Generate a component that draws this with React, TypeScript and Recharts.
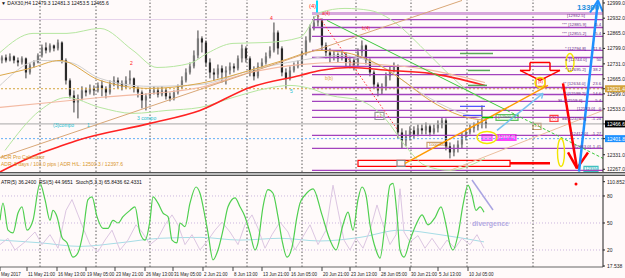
import React from "react";
import {
  ComposedChart,
  Bar,
  Line,
  XAxis,
  YAxis,
  ReferenceLine,
  ReferenceArea,
  ReferenceDot,
} from "recharts";

const FONT = "'Liberation Sans', Arial, sans-serif";
const XDOM = [-0.5, 150.25];

// DAX30 H4 candles (bar 0 = left edge)
const opens = [
  12746, 12759, 12746, 12764, 12746, 12737, 12755, 12693, 12724, 12737,
  12768, 12803, 12790, 12812, 12799, 12825, 12746, 12658, 12592, 12561,
  12579, 12614, 12605, 12623, 12614, 12636, 12623, 12605, 12640, 12658,
  12645, 12632, 12658, 12667, 12623, 12605, 12570, 12588, 12605, 12614,
  12596, 12614, 12588, 12579, 12605, 12632, 12658, 12693, 12720, 12768,
  12843, 12825, 12737, 12693, 12684, 12711, 12693, 12702, 12720, 12711,
  12755, 12799, 12755, 12702, 12676, 12720, 12737, 12764, 12790, 12869,
  12799, 12693, 12667, 12702, 12720, 12728, 12781, 12834, 12887, 12913,
  12922, 12812, 12781, 12764, 12772, 12755, 12772, 12737, 12746, 12728,
  12781, 12812, 12746, 12693, 12640, 12614, 12632, 12676, 12702, 12720,
  12429, 12394, 12412, 12438, 12420, 12447, 12438, 12456, 12429, 12447,
  12464, 12482, 12368, 12341, 12359, 12376, 12412, 12429, 12447, 12456,
  12464, 12473,
];
const highs = [
  12768, 12772, 12777, 12768, 12759, 12764, 12759, 12733, 12746, 12777,
  12816, 12825, 12821, 12816, 12838, 12830, 12755, 12667, 12614, 12596,
  12632, 12627, 12640, 12636, 12649, 12658, 12632, 12658, 12676, 12671,
  12658, 12676, 12702, 12671, 12632, 12614, 12601, 12623, 12632, 12627,
  12632, 12623, 12605, 12614, 12640, 12676, 12711, 12737, 12790, 12878,
  12852, 12834, 12755, 12711, 12728, 12724, 12720, 12737, 12733, 12768,
  12816, 12808, 12764, 12720, 12737, 12755, 12781, 12808, 12913, 12878,
  12808, 12711, 12720, 12737, 12746, 12790, 12852, 12904, 12940, 12948,
  12931, 12825, 12799, 12790, 12781, 12786, 12781, 12764, 12755, 12799,
  12834, 12816, 12755, 12702, 12649, 12645, 12693, 12720, 12737, 12728,
  12447, 12438, 12456, 12456, 12464, 12464, 12473, 12464, 12464, 12482,
  12495, 12491, 12385, 12376, 12394, 12429, 12447, 12464, 12473, 12482,
  12548, 12491,
];
const lows = [
  12733, 12737, 12742, 12733, 12720, 12728, 12667, 12684, 12715, 12733,
  12759, 12777, 12781, 12786, 12790, 12733, 12640, 12579, 12517, 12491,
  12570, 12588, 12596, 12592, 12605, 12588, 12579, 12596, 12632, 12623,
  12614, 12623, 12640, 12605, 12583, 12535, 12526, 12579, 12596, 12583,
  12588, 12574, 12566, 12570, 12596, 12623, 12649, 12684, 12711, 12755,
  12781, 12720, 12667, 12658, 12667, 12649, 12640, 12684, 12693, 12702,
  12737, 12737, 12676, 12658, 12667, 12711, 12728, 12755, 12781, 12772,
  12676, 12623, 12658, 12693, 12711, 12720, 12768, 12825, 12878, 12896,
  12790, 12755, 12737, 12746, 12737, 12746, 12720, 12711, 12702, 12720,
  12764, 12728, 12676, 12623, 12588, 12596, 12614, 12658, 12693, 12403,
  12359, 12368, 12394, 12403, 12412, 12420, 12420, 12412, 12420, 12429,
  12447, 12350, 12315, 12324, 12341, 12359, 12394, 12420, 12429, 12438,
  12447, 12447,
];
const closes = [
  12759, 12746, 12764, 12746, 12737, 12755, 12693, 12724, 12737, 12768,
  12803, 12790, 12812, 12799, 12825, 12746, 12658, 12592, 12561, 12579,
  12614, 12605, 12623, 12614, 12636, 12623, 12605, 12640, 12658, 12645,
  12632, 12658, 12667, 12623, 12605, 12570, 12588, 12605, 12614, 12596,
  12614, 12588, 12579, 12605, 12632, 12658, 12693, 12720, 12768, 12843,
  12825, 12737, 12693, 12684, 12711, 12693, 12702, 12720, 12711, 12755,
  12799, 12755, 12702, 12676, 12720, 12737, 12764, 12790, 12869, 12799,
  12693, 12667, 12702, 12720, 12728, 12781, 12834, 12887, 12913, 12922,
  12812, 12781, 12764, 12772, 12755, 12772, 12737, 12746, 12728, 12781,
  12812, 12746, 12693, 12640, 12614, 12632, 12676, 12702, 12720, 12429,
  12394, 12412, 12438, 12420, 12447, 12438, 12456, 12429, 12447, 12464,
  12482, 12368, 12341, 12359, 12376, 12412, 12429, 12447, 12456, 12464,
  12473, 12466,
];

// overlays as [bar, price]
const ma200 = [
  [-0.5, 12255], [9.5, 12337], [14.5, 12368], [18.75, 12394], [37, 12469], [49.5, 12526],
  [62, 12627], [74.5, 12680], [79.5, 12702], [87, 12715], [97, 12702], [107, 12689], [120.75, 12636],
];
const maFast = [
  [-0.5, 12680], [7, 12711], [14.5, 12746], [24.5, 12658], [37, 12623], [49.5, 12645],
  [62, 12702], [70.25, 12746], [79.5, 12790], [85.75, 12781], [92, 12746], [99.5, 12667],
  [107, 12570], [114.5, 12504], [120.75, 12482],
];
const maSlow = [
  [-0.5, 12539], [24.5, 12583], [49.5, 12627], [62, 12693], [74.5, 12728], [84.5, 12737],
  [94.5, 12728], [104.5, 12711], [114.5, 12676], [120.75, 12649],
];
const maGray = [
  [-0.5, 12636], [9.5, 12746], [17, 12737], [24.5, 12667], [37, 12632], [49.5, 12640],
  [62, 12702], [74.5, 12746], [84.5, 12768], [94.5, 12724], [104.5, 12605], [114.5, 12517],
  [120.75, 12491],
];
const bbUpper = [
  [-0.5, 12781], [7.75, 12865], [16.25, 12865], [24.5, 12887], [32.75, 12790], [38.75, 12715],
  [47, 12733], [51.25, 12777], [57.75, 12821], [66.25, 12825], [74.5, 12847], [79.5, 12957],
  [85.75, 12975], [92, 12966], [98.25, 12913], [104.5, 12812], [110.75, 12702], [115.75, 12623],
  [120.75, 12570],
];
const bbLower = [
  [0.75, 12350], [9.5, 12526], [16.25, 12583], [24.5, 12539], [32.75, 12513], [41.25, 12526],
  [49.5, 12539], [57.75, 12583], [66.25, 12623], [72, 12636], [77, 12623], [82, 12592],
  [89.5, 12570], [95.75, 12491], [100.75, 12372], [105.75, 12284], [112, 12262], [117, 12284],
  [120.75, 12315],
];

// oscillator window, [bar, value]
const stochMain = [
  [-0.5, 53], [0.25, 72], [1.5, 42], [2.75, 39], [4, 61], [5, 68], [6.25, 42], [7.75, 53],
  [9.5, 94], [10.75, 76], [12, 53], [12.75, 64], [13.75, 57], [15, 34], [16.25, 28], [17.75, 12],
  [19, 17], [20.25, 39], [21.5, 76], [22.5, 79], [23.75, 57], [25.25, 44], [26.5, 44], [27.75, 53],
  [29, 50], [30.25, 57], [32, 64], [33.25, 68], [34.5, 39], [35.75, 31], [37, 53], [37.75, 79],
  [39, 72], [40.25, 61], [41.5, 57], [42.5, 31], [43.75, 28], [44.5, 50], [45.75, 46], [47, 72],
  [48.5, 90], [49.5, 83], [50.75, 57], [51.5, 39], [52.75, 9], [54, 20], [55.25, 42], [56.5, 68],
  [58.25, 78], [59.5, 68], [60.75, 57], [62, 39], [63.25, 20], [64, 28], [65.25, 68], [66.5, 87],
  [67.75, 83], [69, 57], [70, 31], [71.25, 12], [72.5, 23], [73.75, 57], [74.5, 72], [75.75, 81],
  [77.75, 88], [80, 59], [82, 31], [83.5, 20], [85.25, 48], [86.5, 62], [87.75, 42], [89, 76],
  [90, 90], [91, 81], [92, 48], [93.5, 20], [94.5, 11], [95.75, 48], [97, 92], [97.75, 94],
  [98.75, 59], [99.5, 20], [100.5, 12], [102, 31], [103.5, 48], [105, 59], [106.5, 48],
  [108.25, 56], [109.75, 68], [111, 48], [112, 26], [112.75, 20], [114, 37], [115.25, 70],
  [116.5, 92], [117.5, 81], [118.5, 64], [119.5, 68], [120.5, 62],
];
const stochSignal = [
  [-0.5, 26], [1.5, 33], [3.25, 20], [5.75, 29], [8.25, 40], [10, 26], [12, 37], [14, 22],
  [16, 64], [17.5, 76], [19, 59], [20.5, 42], [22, 26], [24, 18], [25.75, 31], [27.5, 42],
  [29.5, 20], [31.5, 31], [33.5, 48], [35, 40], [37, 26], [39, 33], [40.75, 48], [42.5, 59],
  [44, 48], [45.75, 26], [47.5, 37], [49.5, 20], [51.5, 31], [53.25, 42], [55, 51], [57, 40],
  [59, 26], [60.75, 48], [62.5, 59], [64, 44], [65.75, 22], [67.5, 37], [69.5, 51], [71.5, 40],
  [73.25, 20], [75, 33], [77, 48], [79, 26], [81, 42], [82.75, 92], [84, 64], [85.5, 31],
  [87, 20], [88.5, 33], [90.25, 22], [92, 42], [93.75, 70], [95.25, 48], [97, 26], [98.5, 37],
  [99.5, 88], [100.5, 40], [102, 29], [104, 36], [105.75, 22], [107.5, 33], [109.5, 20],
  [111.25, 31], [113.25, 22], [115, 33], [117, 26], [118.75, 37], [120.5, 22],
];
const atrLine = [
  [-0.5, 31], [9.5, 28], [19.5, 24], [29.5, 28], [39.5, 33], [49.5, 34], [59.5, 31],
  [69.5, 33], [79.5, 30], [89.5, 34], [99.5, 42], [109.5, 37], [120.5, 29],
];

const timeLabels = [
  "May 2017", "11 May 21:00", "16 May 13:00", "19 May 05:00", "23 May 21:00", "26 May 13:00",
  "31 May 05:00", "2 Jun 21:00", "8 Jun 13:00", "13 Jun 21:00", "16 Jun 05:00", "20 Jun 21:00",
  "23 Jun 13:00", "28 Jun 05:00", "30 Jun 21:00", "5 Jul 13:00", "10 Jul 05:00",
];
const timeBars = [-0.5, 6.25, 13.75, 21, 28.25, 35.75, 42.75, 50.25, 57.75, 65, 72, 80, 87, 94.5, 102, 109, 116.5];
const weekBars = [9.5, 23.5, 37, 51, 61.25, 75, 88.5, 102.25, 116.25, 132.75];

const priceTicks = [12267, 12331, 12401.8, 12466.6, 12533, 12599, 12621.4, 12665, 12731, 12799, 12865, 12932, 12999];
const oscTicks = [2.2, 20, 50, 80, 95.9];

// fibo levels drawn from the wave top
const fibLevels = [12926, 12891, 12852, 12790, 12759, 12720, 12684, 12627, 12596, 12566, 12526, 12495, 12416, 12359, 12262];
const fibTags = [
  ["[12932.5]", "", 141.25, 12935],
  ["*** [12885.9]", "5.4", 140, 12896],
  ["*** [12855.2]", "5.4", 140, 12856],
  ["* [12794.8]", "11.8", 140.75, 12794],
  ["= [12744.0]", "50", 140.75, 12742],
  ["* [12695.2]", "38.2", 140.75, 12698],
  ["** [12634.0]", "23.6", 140.25, 12636],
  ["** [12599.2]", "14.6", 140.25, 12596],
  ["SL [12559.6]", "5.4", 139, 12561],
  ["[12533.0]", "0", 143.75, 12530],
  ["== [12476.4]", "-1.24", 140, 12482],
  ["[12412.0]", "-1.27", 142, 12420],
  ["[12363.0]", "-1.41", 142.75, 12359],
];

const drawings = [
  [-0.5, 12319, 115, 13010, "#d9a777", 1, ""],
  [112, 12262, 150.25, 12526, "#ebbf9f", 1, ""],
  [81.25, 12922, 126.25, 12526, "#3cc83c", 1, ""],
  [126.25, 12526, 150.25, 12315, "#3cc83c", 1, "3 2"],
  [79, 12944, 99, 12438, "#ff3030", 1, "1.5 2"],
  [100.75, 12293, 136.5, 12636, "#ff9a00", 1.5, ""],
  [123.75, 12438, 135.25, 12601, "#78c4f0", 1.5, ""],
  [135.25, 12601, 133.5, 12594, "#78c4f0", 1.5, ""],
  [135.25, 12601, 134.9, 12578, "#78c4f0", 1.5, ""],
  [140.25, 12645, 143.75, 12271, "#ff0000", 2.5, ""],
  [141.5, 12341, 143.75, 12271, "#ff0000", 2.5, ""],
  [146.5, 12341, 143.75, 12271, "#ff0000", 2.5, ""],
  [144.25, 12257, 149, 13010, "#1e90ff", 2.5, ""],
  [149, 13010, 147, 12957, "#1e90ff", 2, ""],
  [149, 13010, 150.2, 12960, "#1e90ff", 2, ""],
  [132, 12737, 137, 12737, "#ff0000", 1.5, ""],
  [137, 12737, 137, 12702, "#ff0000", 1.5, ""],
  [137, 12702, 139.5, 12702, "#ff0000", 1.5, ""],
  [139.5, 12702, 134.5, 12658, "#ff0000", 1.5, ""],
  [134.5, 12658, 129.5, 12702, "#ff0000", 1.5, ""],
  [129.5, 12702, 132, 12702, "#ff0000", 1.5, ""],
  [132, 12702, 132, 12737, "#ff0000", 1.5, ""],
  [127, 12293, 137, 12293, "#ff0000", 2.5, ""],
  [114.5, 12777, 122.75, 12777, "#5aa85a", 1.5, ""],
  [116.5, 12702, 122, 12702, "#5aa85a", 1.5, ""],
  [116.5, 12636, 121.25, 12636, "#5aa85a", 1.5, ""],
  [114.5, 12544, 120.75, 12544, "#4a4aff", 1.2, ""],
  [115.25, 12504, 120, 12504, "#4a4aff", 1.2, ""],
  [120, 12495, 122.75, 12495, "#00c000", 1.5, ""],
  [78.75, 13010, 78.75, 12957, "#00e0ff", 2, ""],
];

const boxes = [
  [89, 127, 12280, 12306, "#ff0000", "none", "", "#000"],
  [93.25, 95.5, 12486, 12517, "#999", "#fff", "c1", "#c08040"],
  [106.25, 111.25, 12359, 12385, "#c8a070", "#fff", "1000000", "#c07020"],
  [132.75, 134.75, 12442, 12469, "#c8a070", "#fff", "c3", "#c07020"],
  [137, 139, 12478, 12504, "#ff4040", "#fff", "(5)", "#ff0000"],
  [133.5, 135.75, 12632, 12667, "#ff4040", "#fff", "(5)", "#ff0000"],
  [123.5, 129, 12482, 12508, "#60c060", "#eaffea", "[12500.0]", "#30a030"],
  [123.5, 128.5, 12394, 12420, "#ff40ff", "#ff40ff", "[12397.6]", "#fff"],
  [120, 122.5, 12394, 12420, "#ff40ff", "#ff90ff", "", "#fff"],
  [145.5, 149, 12257, 12280, "#40c0c0", "#e0ffff", "12355", "#2090a0"],
  [98.75, 100.75, 12280, 12306, "#888", "none", "", "#000"],
];

const rings = [
  [134.5, 12649, 5, 5],
  [142, 12737, 4, 9],
  [139.75, 12341, 3.5, 14],
  [121.25, 12407, 10, 6],
];

const notes = [
  [32, 12724, "2", "#ff2020", 5, false],
  [67, 12926, "4", "#ff2020", 5, false],
  [76.75, 12975, "(4)", "#ff2020", 6, false],
  [72, 12601, "5", "#20c0d0", 5, false],
  [12.75, 12451, "(3)compo", "#20c0d0", 5, false],
  [21.25, 12451, "1", "#20c0d0", 5, false],
  [33.75, 12482, "3 compo", "#20c0d0", 5, false],
  [80, 12948, "a(4)", "#ff3030", 4.5, false],
  [90, 12878, "b(4)", "#ff3030", 4.5, false],
  [80.75, 12658, "b(b)", "#e0a040", 4.5, false],
  [143.75, 12966, "13300", "#1e8fe0", 8, true],
];

const candleRows = opens.map((o, i) => ({ i, o, h: highs[i], l: lows[i], c: closes[i] }));
const pts = (a: number[][]) => a.map(([i, v]) => ({ i, v }));

const Candle = (props: any) => {
  const { x, y, width, height, payload } = props;
  if (!payload) return null;
  const { o, h, l, c } = payload;
  const top = Math.min(y, y + height);
  const hh = Math.abs(height);
  const span = h - l || 1;
  const py = (p: number) => top + ((h - p) / span) * hh;
  const cx = x + width / 2;
  const bt = py(Math.max(o, c));
  const bb = py(Math.min(o, c));
  return (
    <g>
      <line x1={cx} x2={cx} y1={top} y2={top + hh} stroke="#3a3a3a" strokeWidth={1} />
      <rect x={cx - 1.1} y={bt} width={2.2} height={Math.max(bb - bt, 0.8)} fill={c >= o ? "#7a7a7a" : "#2a2a2a"} />
    </g>
  );
};

const badges: Record<string, string> = { "12621.4": "#d4a43c", "12466.6": "#000000", "12401.8": "#1e90ff" };

const PriceTick = ({ x, y, payload }: any) => {
  const label = Number(payload.value).toFixed(1);
  const bg = badges[label];
  return (
    <g>
      {bg && <rect x={x - 2} y={y - 3.5} width={22} height={7} fill={bg} />}
      <text x={x} y={y + 2} fontSize={5} fill={bg ? "#fff" : "#222"} fontFamily={FONT}>
        {label}
      </text>
    </g>
  );
};

const OscTick = ({ x, y, payload }: any) => {
  const v = payload.value;
  const label = v > 90 ? "110.852" : v < 10 ? "17.538" : String(v);
  return (
    <text x={x} y={y + 2} fontSize={5} fill="#222" fontFamily={FONT}>
      {label}
    </text>
  );
};

const TimeTick = ({ x, y, payload }: any) => {
  const k = timeBars.indexOf(payload.value);
  return (
    <g>
      <line x1={x} x2={x} y1={y - 2} y2={y + 2} stroke="#444" />
      <text x={x + 1} y={y + 6.5} fontSize={4.5} fill="#222" fontFamily={FONT}>
        {timeLabels[k]}
      </text>
    </g>
  );
};

const textShape = (t: string, fill: string, size: number, bold: boolean, anchor = "start") => (p: any) => (
  <text x={p.cx} y={p.cy} fill={fill} fontSize={size} fontWeight={bold ? "bold" : "normal"} textAnchor={anchor} fontFamily={FONT}>
    {t}
  </text>
);

const ringShape = (rx: number, ry: number) => (p: any) => (
  <ellipse cx={p.cx} cy={p.cy} rx={rx} ry={ry} fill="none" stroke="#f2e600" strokeWidth={1.4} />
);

export default function App() {
  return (
    <div style={{ position: "absolute", left: 0, top: 0, width: 625, height: 278, background: "#fffafa", overflow: "hidden" }}>
      <ComposedChart width={625} height={172} data={candleRows} margin={{ top: 0, right: 0, bottom: 0, left: 0 }}>
        <XAxis type="number" dataKey="i" domain={XDOM} hide allowDataOverflow />
        <YAxis
          orientation="right"
          width={22}
          domain={[12255, 13012]}
          allowDataOverflow
          ticks={priceTicks}
          interval={0}
          tick={PriceTick}
          tickSize={2}
          axisLine={{ stroke: "#222" }}
          tickLine={{ stroke: "#222" }}
        />
        {weekBars.map((b) => (
          <ReferenceLine key={"w" + b} x={b} stroke="#333" strokeDasharray="1.5 2" strokeWidth={0.8} />
        ))}
        <ReferenceLine y={12926} stroke="#e6d2ec" strokeWidth={1} />
        <ReferenceLine y={12621.4} stroke="#d4a43c" strokeDasharray="2 2" />
        <ReferenceLine y={12466.6} stroke="#a8a8a8" />
        <ReferenceLine y={12401.8} stroke="#62aef5" strokeDasharray="2 2" />
        <ReferenceLine segment={[{ x: 77.5, y: 12953 }, { x: 150.25, y: 12953 }]} stroke="#d7a8dc" strokeWidth={3} ifOverflow="hidden" />
        {fibLevels.map((p) => (
          <ReferenceLine key={"f" + p} segment={[{ x: 77.5, y: p }, { x: 150.25, y: p }]} stroke="#a242bd" strokeWidth={1.3} ifOverflow="hidden" />
        ))}
        <Line data={pts(bbUpper)} dataKey="v" type="monotone" stroke="#b6e6a0" strokeWidth={1} dot={false} isAnimationActive={false} />
        <Line data={pts(bbLower)} dataKey="v" type="monotone" stroke="#b6e6a0" strokeWidth={1} dot={false} isAnimationActive={false} />
        <Line data={pts(maGray)} dataKey="v" type="monotone" stroke="#cfcfcf" strokeWidth={1} dot={false} isAnimationActive={false} />
        <Line data={pts(maSlow)} dataKey="v" type="monotone" stroke="#f3b9a2" strokeWidth={1.2} dot={false} isAnimationActive={false} />
        <Line data={pts(maFast)} dataKey="v" type="monotone" stroke="#dca84a" strokeWidth={1} dot={false} isAnimationActive={false} />
        <Line data={pts(ma200)} dataKey="v" type="monotone" stroke="#ff2222" strokeWidth={1.6} dot={false} isAnimationActive={false} />
        {boxes.map(([x1, x2, y1, y2, stroke, fill], k) => (
          <ReferenceArea key={"b" + k} x1={x1} x2={x2} y1={y1} y2={y2} stroke={stroke} strokeWidth={1.2} fill={fill} fillOpacity={fill === "none" ? 0 : 1} ifOverflow="hidden" />
        ))}
        {drawings.map(([x1, p1, x2, p2, color, w, dash], k) => (
          <ReferenceLine
            key={"d" + k}
            segment={[{ x: x1, y: p1 }, { x: x2, y: p2 }]}
            stroke={color}
            strokeWidth={w}
            strokeDasharray={dash || undefined}
            ifOverflow="hidden"
          />
        ))}
        <Bar dataKey={(d: any) => [d.l, d.h]} barSize={3} shape={Candle} isAnimationActive={false} />
        {boxes.map(([x1, x2, y1, y2, , , t, tc], k) =>
          t ? (
            <ReferenceDot key={"bt" + k} x={(x1 + x2) / 2} y={(y1 + y2) / 2 - 3} r={0} shape={textShape(t, tc, 4.2, false, "middle")} />
          ) : null
        )}
        {rings.map(([x, p, rx, ry], k) => (
          <ReferenceDot key={"r" + k} x={x} y={p} r={1} shape={ringShape(rx, ry)} />
        ))}
        {fibTags.map(([t, ratio, x, p], k) => (
          <ReferenceDot key={"ft" + k} x={x} y={p} r={0} shape={textShape(t, "#6a2a8a", 4.3, false)} />
        ))}
        {fibTags.map(([t, ratio, x, p], k) =>
          ratio ? <ReferenceDot key={"fr" + k} x={149.8} y={p} r={0} shape={textShape(ratio, "#6a2a8a", 4.3, false, "end")} /> : null
        )}
        {notes.map(([x, p, t, c, s, b], k) => (
          <ReferenceDot key={"n" + k} x={x} y={p} r={0} shape={textShape(t, c, s, b)} />
        ))}
      </ComposedChart>
      <div style={{ height: 2, borderTop: "1px solid #555", borderBottom: "1px solid #555", background: "#bdbdbd" }} />
      <ComposedChart width={625} height={102} margin={{ top: 0, right: 0, bottom: 0, left: 0 }}>
        <XAxis
          type="number"
          dataKey="i"
          domain={XDOM}
          allowDataOverflow
          ticks={timeBars}
          interval={0}
          tick={TimeTick}
          tickLine={false}
          tickSize={0}
          height={11}
          axisLine={{ stroke: "#666" }}
        />
        <YAxis
          orientation="right"
          width={22}
          domain={[1.1, 102.2]}
          allowDataOverflow
          ticks={oscTicks}
          interval={0}
          tick={OscTick}
          tickSize={2}
          axisLine={{ stroke: "#222" }}
          tickLine={{ stroke: "#222" }}
        />
        {weekBars.map((b) => (
          <ReferenceLine key={"lw" + b} x={b} stroke="#333" strokeDasharray="1.5 2" strokeWidth={0.8} />
        ))}
        {[20, 50, 80].map((v) => (
          <ReferenceLine key={"lv" + v} y={v} stroke="#cbb6de" strokeDasharray="1 2" />
        ))}
        <Line data={pts(atrLine)} dataKey="v" type="monotone" stroke="#a6dde6" strokeWidth={1} dot={false} isAnimationActive={false} />
        <Line data={pts(stochSignal)} dataKey="v" type="linear" stroke="#dcc6e2" strokeWidth={1} dot={false} isAnimationActive={false} />
        <Line data={pts(stochMain)} dataKey="v" type="monotone" stroke="#4fcf4f" strokeWidth={1.2} dot={false} isAnimationActive={false} />
        <ReferenceLine segment={[{ x: 117.5, y: 97.8 }, { x: 122.75, y: 64.4 }]} stroke="#aaa4e2" strokeWidth={1.5} />
        <ReferenceDot x={117.5} y={47} r={0} shape={textShape("divergence", "#b4aae2", 7, true)} />
        <ReferenceDot x={143.5} y={93.3} r={1.5} fill="#ff0000" stroke="none" />
      </ComposedChart>
      <div style={{ position: "absolute", left: 1, top: 0, fontFamily: FONT, fontSize: 5, color: "#111", whiteSpace: "nowrap", lineHeight: "7px" }}>
        ▼ DAX30,H4 12479.3 12481.3 12453.5 12465.6
      </div>
      <div style={{ position: "absolute", left: 1, top: 154, fontFamily: FONT, fontSize: 5, color: "#d9962a", whiteSpace: "nowrap", lineHeight: "7px" }}>
        ADR Pro Calculator
        <br />
        ADR: 5 days / 103.0 pips | ADR H/L: 12500.3 / 12397.6
      </div>
      <div style={{ position: "absolute", left: 1, top: 179, fontFamily: FONT, fontSize: 5, color: "#111", whiteSpace: "nowrap", lineHeight: "7px" }}>
        ATR(5) 36.2400 &nbsp;RSI(5) 44.9651 &nbsp;Stoch(5,3,3) 65.8436 62.4331
      </div>
    </div>
  );
}
